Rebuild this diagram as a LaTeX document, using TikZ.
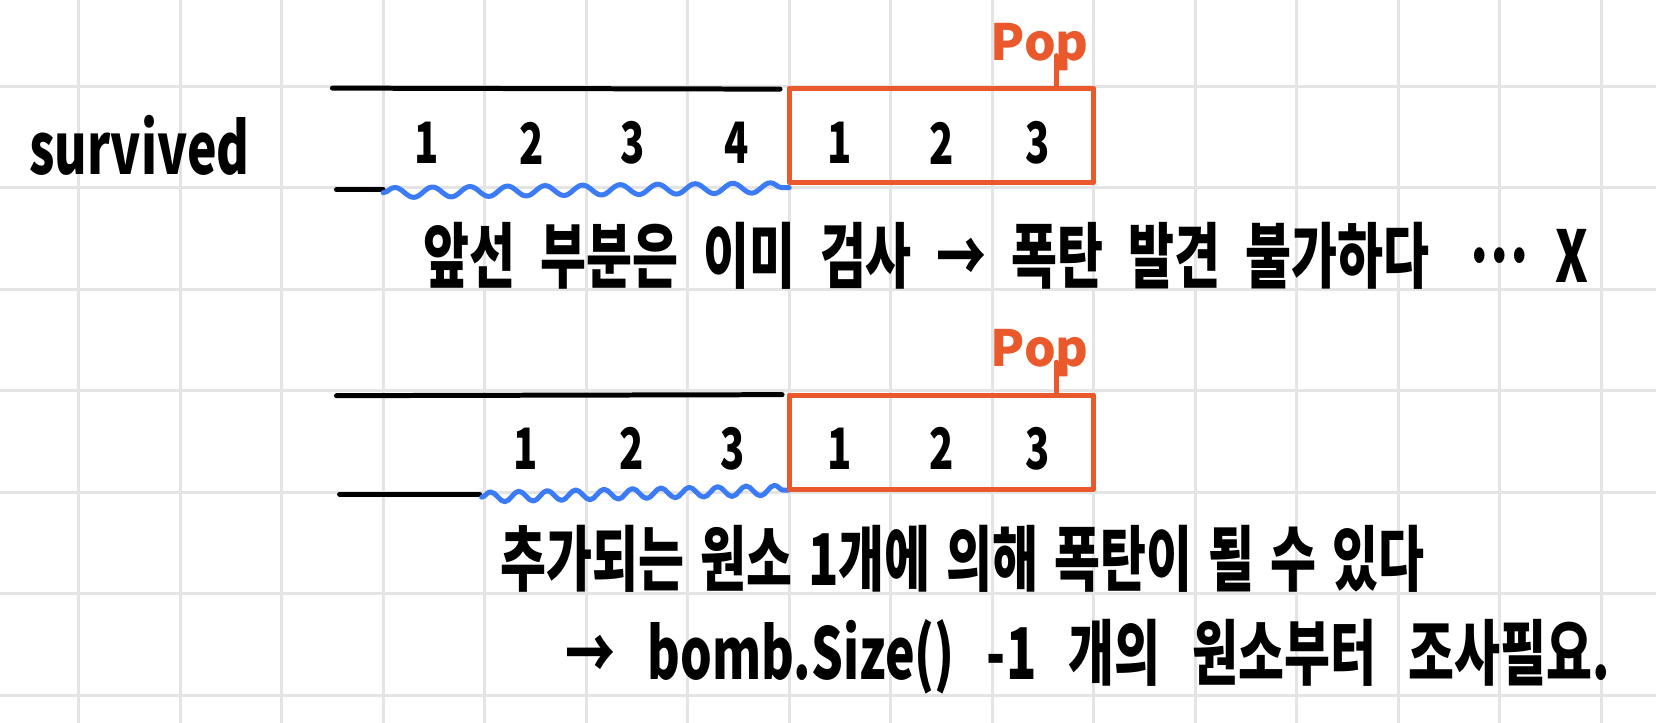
\documentclass[tikz,border=0pt]{standalone}
\usepackage{fontspec}
\usepackage{tikz}
\usetikzlibrary{decorations.pathmorphing}
\newfontfamily\handfont{Noto Sans CJK KR}[FakeStretch=0.7]
\newfontfamily\popfont{Noto Sans CJK KR}
\definecolor{popred}{HTML}{E9592C}
\definecolor{waveblue}{HTML}{3B7BF6}
\definecolor{gridgray}{HTML}{E4E4E4}

\begin{document}
\begin{tikzpicture}[
    pen/.style={line width=1.4pt, line cap=round, line join=round},
    gridline/.style={gridgray, line width=0.85pt},
    wavy/.style={pen, waveblue, decorate, decoration={snake, segment length=#1, amplitude=0.05cm}},
    popbox/.style={pen, popred, draw, minimum width=3cm, minimum height=0.93cm, inner sep=0pt},
    digit/.style={font=\handfont\bfseries\fontsize{16}{19}\selectfont, inner sep=0pt},
    poplabel/.style={popred, font=\popfont\bfseries\fontsize{14}{16}\selectfont, inner sep=0pt, anchor=base west},
    note/.style={font=\handfont\bfseries\fontsize{20}{24}\selectfont, inner sep=0pt, anchor=west,
        execute at begin node={\spaceskip=7pt\relax}},
    tightnote/.style={note, execute at begin node={\spaceskip=4.5pt\relax}},
    widenote/.style={note, execute at begin node={\spaceskip=9pt\relax}}
]
    % Paper and grid
    \fill[white] (-0.775, 0.848) rectangle (15.54, -6.272);
    \useasboundingbox (-0.775, 0.848) rectangle (15.54, -6.272);
    \draw[gridline] (-0.775, 0.848) grid (15.54, -6.272);

    % Label on the left
    \node[font=\handfont\bfseries\fontsize{20}{24}\selectfont, inner sep=0pt] (survived) at (0.6, -0.58) {survived};

    % Upper stack
    \draw[pen] (2.5, -0.02) -- (6.91, -0.03);
    \draw[pen] (2.54, -1.02) -- (3.0, -1.02);
    \draw[wavy=0.37cm] (3.0, -1.05) -- (7.0, -1.0);
    \node[popbox] (top1) at (8.5, -0.485) {};
    \foreach \x/\n [count=\k] in {3.43/1, 4.46/2, 5.46/3, 6.48/4, 7.5/1, 8.5/2, 9.45/3}
        \node[digit] (a\k) at (\x, -0.56) {\n};
    \node[poplabel] (pop1) at (8.98, 0.256) {Pop};
    \coordinate (stem1) at (9.63, 0.3);
    \draw[pen, popred] (stem1) -- (stem1 |- top1.north);

    % Note under the upper stack
    \node[note] (line1) at (3.39, -1.67) {앞선 부분은 이미 검사 → 폭탄 발견 불가하다\hspace{0.35cm}·\kern-3pt·\kern-3pt·\hspace{0.2cm}X};

    % Lower stack
    \draw[pen] (2.54, -3.05) -- (6.93, -3.04);
    \draw[pen] (2.57, -4.02) -- (3.95, -4.02);
    \draw[wavy=0.28cm] (3.97, -4.05) -- (7.0, -3.98);
    \node[popbox] (top2) at (8.5, -3.51) {};
    \foreach \x/\n [count=\k] in {4.4/1, 5.45/2, 6.44/3, 7.5/1, 8.5/2, 9.45/3}
        \node[digit] (b\k) at (\x, -3.57) {\n};
    \node[poplabel] (pop2) at (8.98, -2.76) {Pop};
    \coordinate (stem2) at (9.63, -2.72);
    \draw[pen, popred] (stem2) -- (stem2 |- top2.north);

    % Notes under the lower stack
    \node[tightnote] (line2) at (4.15, -4.655) {추가되는 원소 1개에 의해 폭탄이 될 수 있다};
    \node[widenote] (line3) at (4.79, -5.62) {→ bomb.Size() -1 개의 원소부터 조사필요.};
\end{tikzpicture}
\end{document}
